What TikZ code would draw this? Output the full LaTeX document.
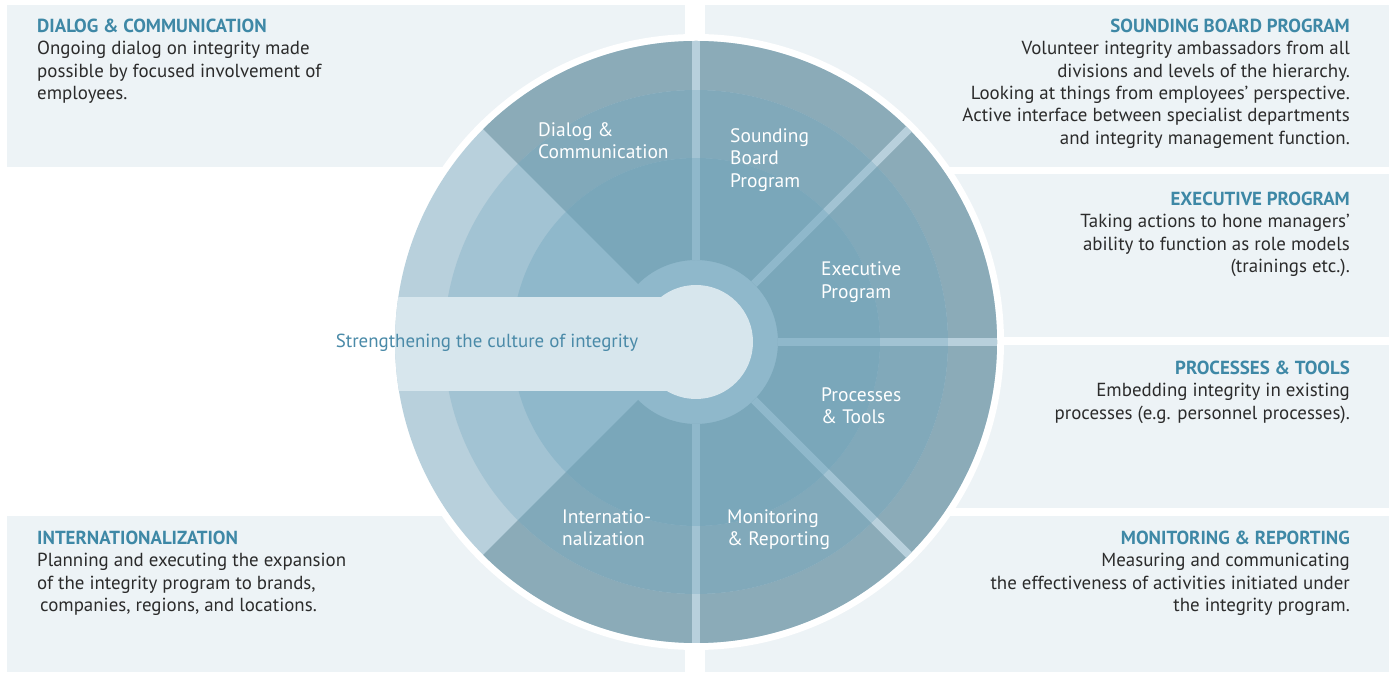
\documentclass[tikz,border=0pt]{standalone}
\usepackage{fontspec}
\setmainfont{PT Sans}
\usepackage{tikz}
\usetikzlibrary{positioning}

\definecolor{panelc}{HTML}{EDF3F6}
\definecolor{headc}{HTML}{3E88A6}
\definecolor{bodyc}{HTML}{2B2B2B}
\definecolor{darkout}{HTML}{8BABB8}
\definecolor{darkmid}{HTML}{81A9BA}
\definecolor{darkin}{HTML}{7AA7BA}
\definecolor{lightout}{HTML}{B8D0DC}
\definecolor{lightmid}{HTML}{A2C3D3}
\definecolor{lightin}{HTML}{8FB8CB}
\definecolor{hubc}{HTML}{D7E6ED}
\definecolor{bandtext}{HTML}{4A8AA8}

\tikzset{
    panel/.style={fill=panelc},
    desc/.style={inner sep=0pt, text=bodyc, font=\fontsize{18.9}{22.3}\selectfont},
    descl/.style={desc, anchor=north west, align=left},
    descr/.style={desc, anchor=north east, align=right},
    seg/.style={inner sep=0pt, anchor=north west, align=left, text=white, font=\fontsize{19.5}{22.5}\selectfont},
    divider/.style={line width=8pt},
}
\newcommand{\head}[1]{{\color{headc}\bfseries #1}}
\newcommand{\annsector}[5]{\fill[#1] (#4:#3) arc[start angle=#4, end angle=#5, radius=#3] -- (#5:#2) arc[start angle=#5, end angle=#4, radius=#2] -- cycle;}

\begin{document}
\begin{tikzpicture}[x=1pt, y=1pt]
    \useasboundingbox (0,0) rectangle (1389,674);
    \fill[white] (0,0) rectangle (1389,674);

    \fill[panel] (7,507) rectangle (685,669);
    \fill[panel] (7,2) rectangle (685,158);
    \fill[panel] (705,507) rectangle (1389,669);
    \fill[panel] (705,337) rectangle (1389,500);
    \fill[panel] (705,166) rectangle (1389,329);
    \fill[panel] (705,2) rectangle (1389,158);

    \fill[white] (696,332) circle (308);
    \begin{scope}[shift={(696,332)}]
        \fill[lightout] (0,0) circle (301);
        \fill[lightmid] (0,0) circle (252);
        \fill[lightin] (0,0) circle (184);
        \annsector{darkout}{252}{301}{-135}{135}
        \annsector{darkmid}{184}{252}{-135}{135}
        \annsector{darkin}{82}{184}{-135}{135}
        \foreach \a in {90,45,0,-45,-90} {
            \draw[divider, lightin] (\a:82) -- (\a:184);
            \draw[divider, lightmid] (\a:184) -- (\a:252);
            \draw[divider, lightout] (\a:252) -- (\a:301);
        }
        \begin{scope}
            \clip (0,0) circle (301);
            \fill[hubc] (-310,-49) rectangle (0,45);
        \end{scope}
        \fill[hubc] (0,0) circle (57);
    \end{scope}

    \node[descl] (dialogtxt) at (37,655) {\head{DIALOG \& COMMUNICATION}\\Ongoing dialog on integrity made\\possible by focused involvement of\\employees.};
    \node[descr] (soundtxt) at (1350,655) {\head{SOUNDING BOARD PROGRAM}\\Volunteer integrity ambassadors from all\\divisions and levels of the hierarchy.\\Looking at things from employees’ perspective.\\Active interface between specialist departments\\and integrity management function.};
    \node[descr] (exectxt) at (1350,482) {\head{EXECUTIVE PROGRAM}\\Taking actions to hone managers’\\ability to function as role models\\(trainings etc.).};
    \node[descr] (proctxt) at (1350,313) {\head{PROCESSES \& TOOLS}\\Embedding integrity in existing\\processes (e.g. personnel processes).};
    \node[descr] (montxt) at (1350,143) {\head{MONITORING \& REPORTING}\\Measuring and communicating\\the effectiveness of activities initiated under\\the integrity program.};
    \node[descl] (inttxt) at (37,143) {\head{INTERNATIONALIZATION}\\Planning and executing the expansion\\of the integrity program to brands,\\\hspace{3pt}companies, regions, and locations.};

    \node[seg] (dialog) at (538,552) {Dialog \&\\Communication};
    \node[seg] (sounding) at (730,546) {Sounding\\Board\\Program};
    \node[seg] (exec) at (821,412) {Executive\\Program};
    \node[seg] (proc) at (821,287) {Processes\\\& Tools};
    \node[seg] (monit) at (727,165) {Monitoring\\\& Reporting};
    \node[seg] (intl) at (562,165) {Internatio-\\nalization};

    \node[text=bandtext, inner sep=0pt, font=\fontsize{18.9}{20}\selectfont] (culture) at (487,331) {Strengthening the culture of integrity};
\end{tikzpicture}
\end{document}
